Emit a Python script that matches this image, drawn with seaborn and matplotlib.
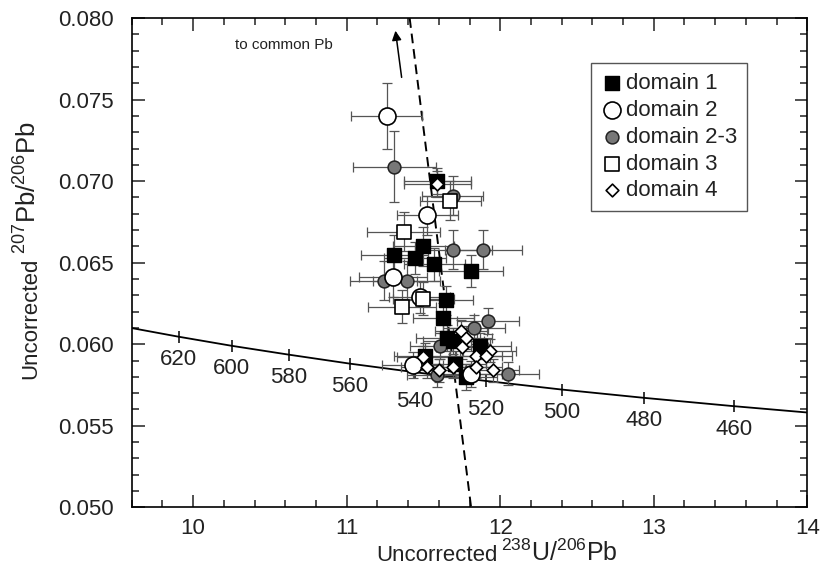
import numpy as np
import pandas as pd
import matplotlib.pyplot as plt
import seaborn as sns
from matplotlib.ticker import MultipleLocator

# ----------------------------------------------------------
# DATA
# ----------------------------------------------------------
# domain 1 - filled squares
d1_x = [11.59, 11.31, 11.50, 11.445, 11.57, 11.81, 11.645, 11.63, 11.65, 11.695, 11.87, 11.51, 11.705, 11.78]
d1_y = [0.0700, 0.0655, 0.0660, 0.0653, 0.0649, 0.0645, 0.0627, 0.0616, 0.0604, 0.0602, 0.0599, 0.0593, 0.0588, 0.0580]
d1_xe = [0.22, 0.22, 0.20, 0.20, 0.20, 0.21, 0.18, 0.20, 0.20, 0.20, 0.20, 0.20, 0.20, 0.20]
d1_ye = [0.0008, 0.0012, 0.0012, 0.0010, 0.0010, 0.0010, 0.0009, 0.0009, 0.0008, 0.0008, 0.0008, 0.0008, 0.0008, 0.0008]

# domain 2 - open circles
d2_x = [11.26, 11.525, 11.30, 11.475, 11.43, 11.81]
d2_y = [0.0740, 0.0679, 0.0641, 0.0629, 0.0587, 0.0582]
d2_xe = [0.23, 0.20, 0.22, 0.20, 0.20, 0.20]
d2_ye = [0.0020, 0.0012, 0.0012, 0.0010, 0.0008, 0.0008]

# domain 2-3 - grey circles
d23_x = [11.31, 11.69, 11.695, 11.89, 11.24, 11.39, 11.92, 11.83, 11.61, 12.05, 11.59]
d23_y = [0.0709, 0.0691, 0.0658, 0.0658, 0.0639, 0.0639, 0.0614, 0.0610, 0.0599, 0.0582, 0.0581]
d23_xe = [0.27, 0.20, 0.25, 0.25, 0.22, 0.22, 0.20, 0.20, 0.20, 0.20, 0.20]
d23_ye = [0.0022, 0.0012, 0.0012, 0.0012, 0.0012, 0.0012, 0.0008, 0.0008, 0.0008, 0.0007, 0.0007]

# domain 3 - open squares
d3_x = [11.675, 11.37, 11.50, 11.36]
d3_y = [0.0688, 0.0669, 0.0628, 0.0623]
d3_xe = [0.20, 0.24, 0.20, 0.22]
d3_ye = [0.0012, 0.0012, 0.0010, 0.0010]

# domain 4 - open diamonds
d4_x = [11.59, 11.745, 11.775, 11.75, 11.93, 11.84, 11.905, 11.495, 11.525, 11.60, 11.69, 11.84, 11.95]
d4_y = [0.0698, 0.0608, 0.0604, 0.0598, 0.0596, 0.0593, 0.0593, 0.0592, 0.0586, 0.0584, 0.0586, 0.0586, 0.0584]
d4_xe = [0.22, 0.17, 0.17, 0.17, 0.17, 0.17, 0.17, 0.17, 0.17, 0.17, 0.17, 0.17, 0.17]
d4_ye = [0.0008, 0.0007, 0.0007, 0.0007, 0.0007, 0.0007, 0.0007, 0.0007, 0.0007, 0.0007, 0.0007, 0.0007, 0.0007]

# concordia (Tera-Wasserburg), ages in Ma
conc_age = [638.8, 620, 600, 580, 560, 540, 520, 500, 480, 460, 444.8]
conc_x = [9.60, 9.905, 10.252, 10.622, 11.019, 11.445, 11.904, 12.399, 12.936, 13.520, 14.00]
conc_y = [0.06099, 0.06046, 0.05990, 0.05936, 0.05881, 0.05828, 0.05775, 0.05722, 0.05671, 0.05620, 0.05581]
tick_ages = [620, 600, 580, 560, 540, 520, 500, 480, 460]

# mixing line towards common Pb
mix_x = [11.41, 11.81]
mix_y = [0.080, 0.050]

# ----------------------------------------------------------
# STYLE
# ----------------------------------------------------------
sns.set_style("ticks")
plt.rcParams["font.family"] = ["Liberation Sans", "DejaVu Sans"]
plt.rcParams["mathtext.fontset"] = "custom"
plt.rcParams["mathtext.rm"] = "Liberation Sans"
plt.rcParams["text.color"] = "#222222"
plt.rcParams["xtick.color"] = "#222222"
plt.rcParams["ytick.color"] = "#222222"

fig, ax = plt.subplots(figsize=(8.34, 5.68), dpi=100)
fig.subplots_adjust(left=0.158, right=0.968, top=0.968, bottom=0.107)

# concordia curve
sns.lineplot(x=conc_x, y=conc_y, sort=False, color="black", linewidth=1.3, ax=ax, zorder=2)
conc = pd.DataFrame({"age": conc_age, "x": conc_x, "y": conc_y})
ticks = conc[conc["age"].isin(tick_ages)]
ax.plot(ticks["x"], ticks["y"], linestyle="none", marker="|", markersize=8,
        markeredgewidth=1.1, color="black", zorder=2)
for _, r in ticks.iterrows():
    off = -29 if r["age"] in (540, 520) else -23
    ax.annotate(f"{int(r['age'])}", (r["x"], r["y"]), xytext=(0, off),
                textcoords="offset pixels", ha="center", va="center", fontsize=16)

# mixing line
sns.lineplot(x=mix_x, y=mix_y, sort=False, color="black", linewidth=1.4,
             linestyle=(0, (5, 3)), ax=ax, zorder=2)

# arrow to common Pb
ax.annotate("", xy=(11.315, 0.0794), xytext=(11.36, 0.0762),
            arrowprops=dict(arrowstyle="-|>", color="black", lw=1.1, mutation_scale=14))
ax.text(10.91, 0.07834, "to common Pb", ha="right", va="center", fontsize=11)

# error bars
groups = [
    (d23_x, d23_y, d23_xe, d23_ye),
    (d1_x, d1_y, d1_xe, d1_ye),
    (d2_x, d2_y, d2_xe, d2_ye),
    (d3_x, d3_y, d3_xe, d3_ye),
    (d4_x, d4_y, d4_xe, d4_ye),
]
for gx, gy, gxe, gye in groups:
    ax.errorbar(gx, gy, xerr=gxe, yerr=gye, fmt="none", ecolor="#555555",
                elinewidth=0.9, capsize=3.5, capthick=0.9, zorder=3)

# markers
sns.scatterplot(x=d1_x, y=d1_y, marker="s", s=115, color="black", edgecolor="black",
                linewidth=1.0, label="domain 1", ax=ax, zorder=5)
sns.scatterplot(x=d2_x, y=d2_y, marker="o", s=150, color="white", edgecolor="black",
                linewidth=1.2, label="domain 2", ax=ax, zorder=6)
sns.scatterplot(x=d23_x, y=d23_y, marker="o", s=85, color="#777777", edgecolor="#222222",
                linewidth=1.1, label="domain 2-3", ax=ax, zorder=4)
sns.scatterplot(x=d3_x, y=d3_y, marker="s", s=90, color="white", edgecolor="black",
                linewidth=1.2, label="domain 3", ax=ax, zorder=7)
sns.scatterplot(x=d4_x, y=d4_y, marker="D", s=42, color="white", edgecolor="black",
                linewidth=1.2, label="domain 4", ax=ax, zorder=8)

# axes
ax.set_xlim(9.6, 14)
ax.set_ylim(0.050, 0.080)
ax.xaxis.set_major_locator(MultipleLocator(1))
ax.xaxis.set_minor_locator(MultipleLocator(0.2))
ax.yaxis.set_major_locator(MultipleLocator(0.005))
ax.yaxis.set_minor_locator(MultipleLocator(0.001))
ax.yaxis.set_major_formatter(plt.FormatStrFormatter("%.3f"))
ax.tick_params(which="both", direction="in", top=True, right=True, width=1.1, labelsize=16)
ax.tick_params(which="major", length=9)
ax.tick_params(which="minor", length=5)
ax.tick_params(axis="y", which="major", pad=13)
ax.tick_params(axis="x", which="major", pad=8)
for sp in ax.spines.values():
    sp.set_linewidth(1.2)
    sp.set_color("black")

# axis labels: small "Uncorrected" + larger isotope ratio
ax.text(0.542, -0.11, "Uncorrected", transform=ax.transAxes, ha="right", va="baseline",
        fontsize=16)
ax.text(0.547, -0.11, r"$\mathregular{^{238}U/^{206}Pb}$", transform=ax.transAxes,
        ha="left", va="baseline", fontsize=18)
ax.text(-0.141, 0.511, "Uncorrected", transform=ax.transAxes, rotation=90,
        rotation_mode="anchor", ha="right", va="baseline", fontsize=16)
ax.text(-0.141, 0.518, r"$\mathregular{^{207}Pb/^{206}Pb}$", transform=ax.transAxes,
        rotation=90, rotation_mode="anchor", ha="left", va="baseline", fontsize=18.5)

leg = ax.legend(loc="upper left", bbox_to_anchor=(0.68, 0.908), frameon=True, fancybox=False,
                edgecolor="#555555", framealpha=1, fontsize=16, handletextpad=0.1,
                handlelength=1.0, borderpad=0.45, labelspacing=0.26, borderaxespad=0)
leg.get_frame().set_linewidth(1.0)

plt.savefig("out.png", dpi=100)
plt.close()
